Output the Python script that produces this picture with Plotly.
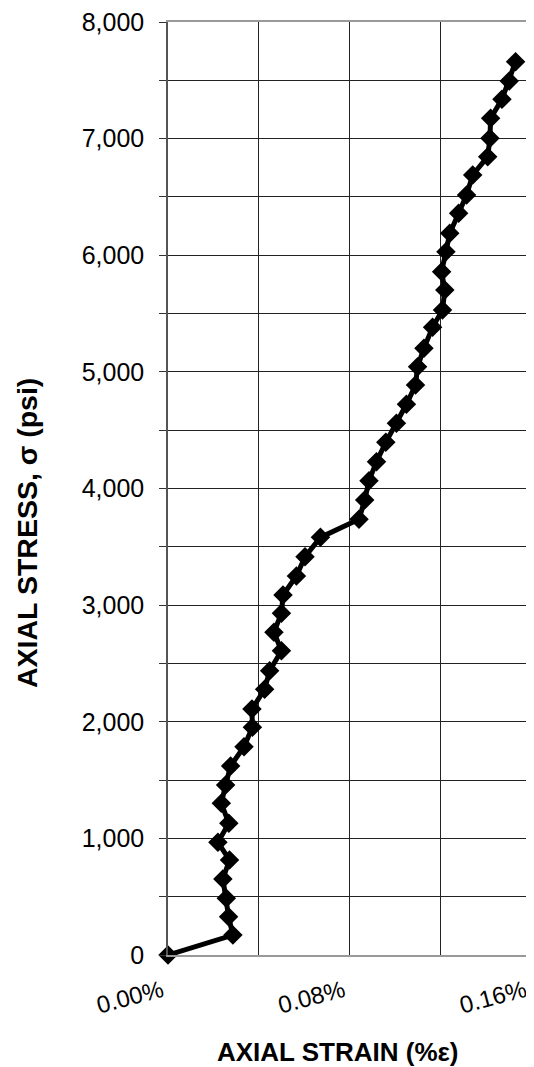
import plotly.graph_objects as go

strain_pct = [0.0, 0.0286, 0.0267, 0.0257, 0.0242, 0.0271, 0.0220, 0.0268, 0.0235, 0.0254,
              0.0276, 0.0335, 0.0372, 0.0370, 0.0426, 0.0448, 0.0500, 0.0467, 0.0500, 0.0507,
              0.0566, 0.0604, 0.0672, 0.0842, 0.0867, 0.0886, 0.0919, 0.0960, 0.1007, 0.1051,
              0.1091, 0.1100, 0.1128, 0.1166, 0.1210, 0.1220, 0.1206, 0.1225, 0.1242, 0.1281,
              0.1316, 0.1343, 0.1409, 0.1419, 0.1422, 0.1472, 0.1504, 0.1532]
stress_psi = [0, 171, 329, 486, 652, 815, 966, 1129, 1301, 1458,
              1621, 1786, 1952, 2109, 2278, 2438, 2609, 2767, 2930, 3087,
              3250, 3415, 3581, 3736, 3901, 4067, 4230, 4396, 4559, 4722,
              4887, 5045, 5202, 5382, 5531, 5702, 5859, 6031, 6188, 6360,
              6517, 6688, 6845, 7003, 7174, 7337, 7494, 7660]

x_tickvals = [0.0, 0.04, 0.08, 0.12, 0.16]
x_ticktext = ["0.00%", "", "0.08%", "", "0.16%"]
y_tickvals = [0, 1000, 2000, 3000, 4000, 5000, 6000, 7000, 8000]
y_ticktext = ["0", "1,000", "2,000", "3,000", "4,000", "5,000", "6,000", "7,000", "8,000"]
x_title = "<b>AXIAL STRAIN (%ε)</b>"
y_title = "<b>AXIAL STRESS, σ (psi)</b>"

fig = go.Figure()
fig.add_trace(go.Scatter(
    x=strain_pct, y=stress_psi, mode="lines+markers",
    line=dict(color="black", width=5),
    marker=dict(symbol="diamond", size=15, color="black"),
    cliponaxis=False, showlegend=False,
))

font = "Liberation Sans, Arial, sans-serif"
fig.update_layout(
    width=526, height=1059,
    margin=dict(l=160, r=3, t=14, b=112),
    paper_bgcolor="white", plot_bgcolor="white",
    font=dict(family=font, size=24, color="black"),
    xaxis=dict(
        range=[0, 0.16], tickvals=x_tickvals, ticktext=x_ticktext,
        tickangle=-15, showgrid=True, gridcolor="#222", gridwidth=1,
        showline=True, linecolor="#999", linewidth=1.5, mirror=True,
        zeroline=False, ticks="", tickfont=dict(size=24),
        ticklabelshift=-6, ticklabelstandoff=11, ticklabeloverflow="allow",
        automargin=False,
    ),
    yaxis=dict(
        range=[0, 8000], tickvals=y_tickvals, ticktext=y_ticktext,
        showgrid=True, gridcolor="#222", gridwidth=1,
        minor=dict(dtick=500, tick0=0, showgrid=True, gridcolor="#222", gridwidth=1,
                   ticks="outside", ticklen=7, tickcolor="#333"),
        showline=True, linecolor="#555", linewidth=1.5, mirror=True,
        zeroline=False, ticks="outside", ticklen=7, tickcolor="#333",
        tickfont=dict(size=25), ticklabelstandoff=10, ticklabeloverflow="allow",
        automargin=False,
    ),
    annotations=[
        dict(text=x_title, xref="paper", yref="paper", x=0.468, y=0,
             xanchor="center", yanchor="middle", yshift=-97, showarrow=False,
             font=dict(size=26)),
        dict(text=y_title, xref="paper", yref="paper", x=0, y=0.4523,
             xanchor="center", yanchor="middle", xshift=-141, showarrow=False,
             textangle=-90, font=dict(size=28.5)),
    ],
)

fig.write_html("out.html")
